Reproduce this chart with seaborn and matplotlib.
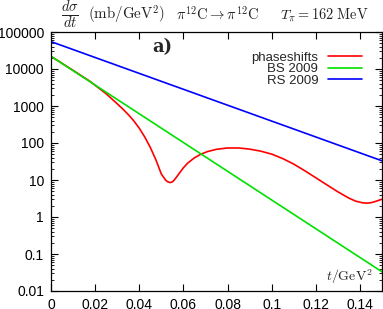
import numpy as np
import pandas as pd
import matplotlib
matplotlib.use("Agg")
import matplotlib.pyplot as plt
import seaborn as sns
from matplotlib.ticker import FixedLocator, FuncFormatter, LogLocator, NullFormatter

sns.set_style("ticks")
plt.rcParams["font.family"] = ["Liberation Sans", "DejaVu Sans"]
plt.rcParams["mathtext.fontset"] = "cm"

# values
t_phase = [0.0, 0.01, 0.0176, 0.02, 0.025, 0.03, 0.0325, 0.035, 0.0375, 0.04, 0.0425,
           0.045, 0.0475, 0.05, 0.052, 0.053, 0.054, 0.055, 0.056, 0.058, 0.06, 0.062,
           0.065, 0.068, 0.071, 0.075, 0.08, 0.085, 0.09, 0.095, 0.1, 0.105, 0.11,
           0.115, 0.12, 0.125, 0.13, 0.135, 0.138, 0.141, 0.143, 0.145, 0.147, 0.15]
y_phase = [22000, 9200, 4670, 3630, 2140, 1150, 832, 589, 398, 251, 145,
           76, 35.5, 14.5, 9.8, 8.9, 8.5, 8.9, 10.2, 14.8, 21.4, 28.8,
           39.8, 50.1, 58.9, 67.6, 73.3, 73.3, 68.4, 60.3, 50.1, 38.0, 26.9,
           17.8, 11.5, 7.4, 4.79, 3.24, 2.69, 2.43, 2.37, 2.43, 2.63, 3.02]

t_bs = [0.0, 0.15]
y_bs = [22000, 0.033]

t_rs = [0.0, 0.15]
y_rs = [55000, 33]

labels = ["phaseshifts", "BS 2009", "RS 2009"]
colors = ["#ff0000", "#00e000", "#0000ff"]

df = pd.concat([
    pd.DataFrame({"t": t_phase, "dsdt": y_phase, "model": labels[0]}),
    pd.DataFrame({"t": t_bs, "dsdt": y_bs, "model": labels[1]}),
    pd.DataFrame({"t": t_rs, "dsdt": y_rs, "model": labels[2]}),
])

fig = plt.figure(figsize=(3.83, 3.09), dpi=100)
ax = fig.add_axes([51 / 383, 18 / 309, 331 / 383, 259 / 309])

sns.lineplot(data=df, x="t", y="dsdt", hue="model", palette=dict(zip(labels, colors)),
             linewidth=1.2, ax=ax)

ax.set_yscale("log")
ax.set_xlim(0, 0.15)
ax.set_ylim(0.01, 100000)
ax.set_xlabel("")
ax.set_ylabel("")

ax.xaxis.set_major_locator(FixedLocator([0, 0.02, 0.04, 0.06, 0.08, 0.1, 0.12, 0.14]))
ax.xaxis.set_major_formatter(FuncFormatter(lambda v, p: "%g" % v))
ax.yaxis.set_major_locator(LogLocator(base=10, numticks=20))
ax.yaxis.set_minor_locator(LogLocator(base=10, subs=np.arange(2, 10), numticks=20))
ax.yaxis.set_minor_formatter(NullFormatter())
ax.yaxis.set_major_formatter(FuncFormatter(lambda v, p: "%g" % v))

ax.tick_params(which="both", direction="in", top=True, right=True, labelsize=10, colors="black")
ax.tick_params(which="major", length=5, width=0.8, pad=5)
ax.tick_params(which="minor", length=2.5, width=0.6)
for s in ax.spines.values():
    s.set_linewidth(0.9)
    s.set_color("black")

ax.legend(loc="upper right", bbox_to_anchor=(0.955, 0.945), frameon=False, markerfirst=False,
          fontsize=9.5, handlelength=2.6, labelspacing=-0.05, handletextpad=0.7, borderaxespad=0)

ax.text(0.335, 0.942, "a)", transform=ax.transAxes, ha="center", va="center",
        fontsize=13, fontweight="bold", family="DejaVu Serif")
ax.text(0.97, 0.02, r"$t/\mathrm{GeV}^2$", transform=ax.transAxes, ha="right", va="bottom",
        fontsize=10)

# title pieces
tc = "#222222"
fig.text(70 / 383, 1 - 15 / 309, r"$\frac{d\sigma}{dt}$", ha="center", va="center",
         fontsize=15, color=tc)
fig.text(88 / 383, 1 - 20 / 309, r"$(\mathrm{mb/GeV}^2)$", ha="left", va="baseline",
         fontsize=10.8, color=tc)
fig.text(176 / 383, 1 - 20 / 309, r"$\pi^{12}\mathrm{C}\rightarrow\pi^{12}\mathrm{C}$",
         ha="left", va="baseline", fontsize=10.5, color=tc)
fig.text(280 / 383, 1 - 20 / 309, r"$T_\pi = 162\ \mathrm{MeV}$", ha="left", va="baseline",
         fontsize=10.3, color=tc)

fig.savefig("out.png", dpi=100)
